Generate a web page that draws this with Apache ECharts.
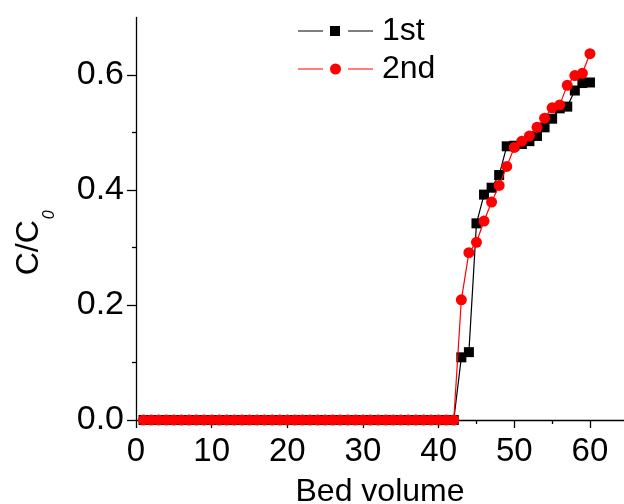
<!DOCTYPE html>
<html>
<head>
<meta charset="utf-8">
<script src="https://cdn.jsdelivr.net/npm/echarts@6/dist/echarts.min.js"></script>
<style>
  html, body { margin: 0; padding: 0; background: #fff; }
  #chart { width: 624px; height: 504px; }
</style>
</head>
<body>
<div id="chart"></div>
<script>
// Bed volumes sampled (x values)
const bedVolume = [
  1, 2, 3, 4, 5, 6, 7, 8, 9, 10,
  11, 12, 13, 14, 15, 16, 17, 18, 19, 20,
  21, 22, 23, 24, 25, 26, 27, 28, 29, 30,
  31, 32, 33, 34, 35, 36, 37, 38, 39, 40,
  41, 42, 43, 44, 45, 46, 47, 48, 49, 50,
  51, 52, 53, 54, 55, 56, 57, 58, 59, 60
];

// C/C0 for the first run
const firstRun = [
  0, 0, 0, 0, 0, 0, 0, 0, 0, 0,
  0, 0, 0, 0, 0, 0, 0, 0, 0, 0,
  0, 0, 0, 0, 0, 0, 0, 0, 0, 0,
  0, 0, 0, 0, 0, 0, 0, 0, 0, 0,
  0, 0, 0.109, 0.118, 0.342, 0.392, 0.404, 0.426, 0.476, 0.477,
  0.480, 0.485, 0.494, 0.509, 0.524, 0.542, 0.545, 0.573, 0.586, 0.587
];

// C/C0 for the second run
const secondRun = [
  0, 0, 0, 0, 0, 0, 0, 0, 0, 0,
  0, 0, 0, 0, 0, 0, 0, 0, 0, 0,
  0, 0, 0, 0, 0, 0, 0, 0, 0, 0,
  0, 0, 0, 0, 0, 0, 0, 0, 0, 0,
  0, 0, 0.209, 0.291, 0.309, 0.346, 0.379, 0.408, 0.441, 0.474,
  0.485, 0.494, 0.509, 0.525, 0.543, 0.548, 0.582, 0.599, 0.603, 0.637
];

const seriesNames = ['1st', '2nd'];

// Axis ticks and labels
const xMajorTicks = [0, 10, 20, 30, 40, 50, 60];
const xMinorTicks = [5, 15, 25, 35, 45, 55];
const yMajorTicks = [0, 0.2, 0.4, 0.6];
const yMinorTicks = [0.1, 0.3, 0.5];

const FONT = '"Liberation Sans", Arial, Helvetica, sans-serif';

const pairs = (ys) => bedVolume.map((x, i) => [x, ys[i]]);

// Legend glyphs: short line, marker, short line
const iconFirst = 'path://M0,4.5H25V5.5H0Z M32,0H42V10H32Z M50,4.5H75V5.5H50Z';
const iconSecond = 'path://M0,5H25V6H0Z M32,5.5A5.5,5.5 0 1,0 43,5.5A5.5,5.5 0 1,0 32,5.5Z M50,5H75V6H50Z';

const chart = echarts.init(document.getElementById('chart'), null, { renderer: 'canvas' });

const axisLineStyle = { color: '#000', width: 1.3 };

chart.setOption({
  animation: false,
  backgroundColor: '#fff',
  textStyle: { fontFamily: FONT },
  grid: { left: 136, right: 0, top: 17.5, bottom: 84, containLabel: false, outerBoundsMode: 'none' },
  legend: {
    orient: 'vertical',
    left: 293,
    top: 10,
    itemWidth: 75,
    itemHeight: 11,
    itemGap: 6,
    selectedMode: false,
    textStyle: { fontFamily: FONT, fontSize: 32, color: '#000', padding: [0, 0, 0, 4] },
    data: [
      { name: seriesNames[0], icon: iconFirst },
      { name: seriesNames[1], icon: iconSecond }
    ]
  },
  xAxis: [
    {
      type: 'value',
      min: 0,
      max: 64.5,
      interval: 10,
      name: 'Bed volume',
      nameLocation: 'middle',
      nameGap: 56,
      nameTextStyle: { fontFamily: FONT, fontSize: 32, color: '#000' },
      axisLine: { show: true, onZero: false, lineStyle: axisLineStyle },
      axisTick: { show: true, inside: false, length: 8, lineStyle: axisLineStyle, customValues: xMajorTicks },
      axisLabel: { fontFamily: FONT, fontSize: 33, color: '#000', margin: 15, customValues: xMajorTicks },
      splitLine: { show: false }
    },
    {
      type: 'value',
      position: 'bottom',
      min: 0,
      max: 64.5,
      interval: 5,
      axisLine: { show: false },
      axisTick: { show: true, inside: false, length: 4, lineStyle: axisLineStyle, customValues: xMinorTicks },
      axisLabel: { show: false },
      splitLine: { show: false }
    }
  ],
  yAxis: [
    {
      type: 'value',
      min: 0,
      max: 0.7,
      interval: 0.1,
      name: 'C/C{sub|0}',
      nameLocation: 'middle',
      nameGap: 78,
      nameTextStyle: {
        fontFamily: FONT,
        fontSize: 32,
        color: '#000',
        padding: [0, 48, 0, 0],
        rich: {
          sub: {
            fontFamily: FONT,
            fontSize: 16,
            fontStyle: 'italic',
            color: '#000',
            padding: [42, 0, 0, 1],
            verticalAlign: 'bottom'
          }
        }
      },
      axisLine: { show: true, onZero: false, lineStyle: axisLineStyle },
      axisTick: { show: true, inside: false, length: 9, lineStyle: axisLineStyle, customValues: yMajorTicks },
      axisLabel: {
        fontFamily: FONT,
        fontSize: 34,
        color: '#000',
        margin: 12,
        padding: [0, 0, 6, 0],
        customValues: yMajorTicks,
        formatter: (v) => v.toFixed(1)
      },
      splitLine: { show: false }
    },
    {
      type: 'value',
      position: 'left',
      min: 0,
      max: 0.7,
      interval: 0.1,
      axisLine: { show: false },
      axisTick: { show: true, inside: false, length: 4, lineStyle: axisLineStyle, customValues: yMinorTicks },
      axisLabel: { show: false },
      splitLine: { show: false }
    }
  ],
  series: [
    {
      name: seriesNames[0],
      type: 'line',
      data: pairs(firstRun),
      symbol: 'rect',
      symbolSize: 10,
      showAllSymbol: true,
      clip: false,
      color: '#000',
      itemStyle: { color: '#000' },
      lineStyle: { color: '#000', width: 1.2 },
      z: 2
    },
    {
      name: seriesNames[1],
      type: 'line',
      data: pairs(secondRun),
      symbol: 'circle',
      symbolSize: 11,
      showAllSymbol: true,
      clip: false,
      color: '#ff0000',
      itemStyle: { color: '#ff0000' },
      lineStyle: { color: '#ff0000', width: 1.2 },
      z: 3
    }
  ]
});
</script>
</body>
</html>
